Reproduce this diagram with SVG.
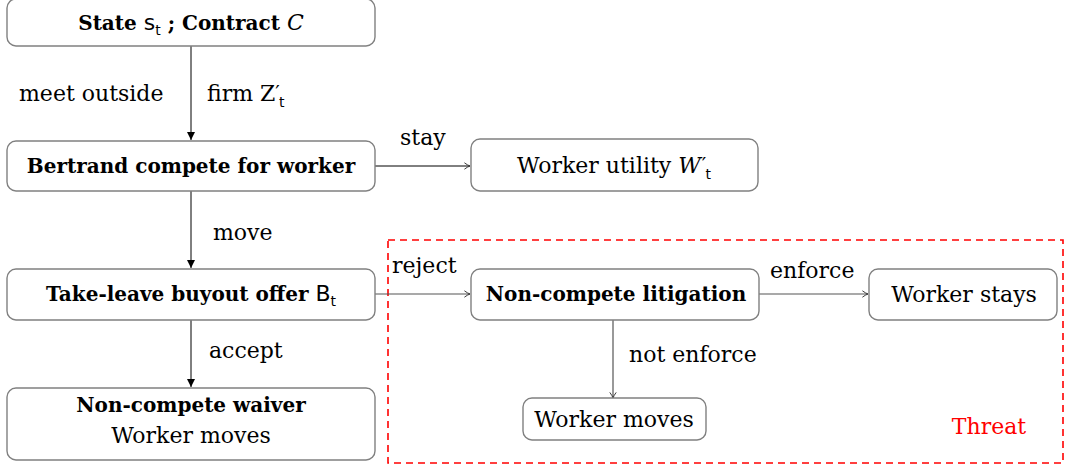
<svg xmlns="http://www.w3.org/2000/svg" width="1067" height="469" viewBox="0 0 1067 469">
<style>
.box{fill:#fff;stroke:#808080;stroke-width:1.4}
.t{font-family:"DejaVu Serif","Liberation Serif",serif;font-size:22px;fill:#000;text-anchor:middle}
.b{font-weight:bold;font-size:20px}
.lbl{font-family:"DejaVu Serif","Liberation Serif",serif;font-size:22px;fill:#000}
.m{font-family:"DejaVu Sans","Liberation Sans",sans-serif}
.pr{font-family:"DejaVu Sans","Liberation Sans",sans-serif;font-size:20px}
.ck{stroke:#000;stroke-width:1;fill:none}
.cg{stroke:#555;stroke-width:1.2;fill:none}
</style>
<defs>
<marker id="tri" viewBox="0 0 10 10" refX="10" refY="5" markerWidth="8" markerHeight="8" markerUnits="userSpaceOnUse" orient="auto">
<path d="M0,0 L10,5 L0,10 z" fill="#000"/>
</marker>
<marker id="open" viewBox="0 0 10 10" refX="9" refY="5" markerWidth="8" markerHeight="8" markerUnits="userSpaceOnUse" orient="auto">
<path d="M2,1 Q6,4 9,5 Q6,6 2,9" fill="none" stroke="#333" stroke-width="1.2"/>
</marker>
</defs>
<rect x="388" y="240" width="675" height="223" fill="none" stroke="#ff0000" stroke-width="1.6" stroke-dasharray="7,5"/>
<text x="989" y="434" class="lbl" text-anchor="middle" style="fill:#ff0000">Threat</text>
<g id="connectors">
<line class="ck" x1="191" y1="46" x2="191" y2="140" marker-end="url(#tri)"/>
<line class="ck" x1="191" y1="191" x2="191" y2="268" marker-end="url(#tri)"/>
<line class="ck" x1="191" y1="320" x2="191" y2="387" marker-end="url(#tri)"/>
<line class="ck" x1="375" y1="166" x2="470" y2="166" marker-end="url(#open)"/>
<line class="cg" x1="375" y1="294" x2="470" y2="294" marker-end="url(#open)"/>
<line class="cg" x1="759" y1="294" x2="868" y2="294" marker-end="url(#open)"/>
<line class="cg" x1="613" y1="320" x2="613" y2="398" marker-end="url(#open)"/>
<text class="lbl" x="19" y="101">meet outside</text>
<text class="lbl" x="207" y="101">firm Z<tspan class="pr" dy="-2">′</tspan><tspan class="m" font-size="14" dx="-1" dy="8">t</tspan></text>
<text class="lbl" x="400" y="145">stay</text>
<text class="lbl" x="213" y="240">move</text>
<text class="lbl" x="392" y="273">reject</text>
<text class="lbl" x="770" y="278">enforce</text>
<text class="lbl" x="209" y="358">accept</text>
<text class="lbl" x="629" y="362">not enforce</text>
</g>
<g id="n1">
<rect class="box" x="7" y="-1" width="368" height="47" rx="9"/>
<text class="t" x="191" y="30"><tspan class="b">State </tspan><tspan class="m">s</tspan><tspan class="m" font-size="14" dy="5">t</tspan><tspan class="b" dy="-5"> ; Contract </tspan><tspan font-style="italic">C</tspan></text>
</g>
<g id="n2">
<rect class="box" x="7" y="141" width="368" height="50" rx="9"/>
<text class="t b" x="191" y="173">Bertrand compete for worker</text>
</g>
<g id="n3">
<rect class="box" x="471" y="139" width="287" height="52" rx="9"/>
<text class="t" x="614" y="173">Worker utility <tspan font-style="italic">W</tspan><tspan class="pr" dx="1" dy="-2">′</tspan><tspan class="m" font-size="14" dx="-1" dy="8">t</tspan></text>
</g>
<g id="n4">
<rect class="box" x="7" y="269" width="368" height="51" rx="9"/>
<text class="t" x="191" y="301"><tspan class="b">Take-leave buyout offer </tspan><tspan class="m">B</tspan><tspan class="m" font-size="14" dy="5">t</tspan></text>
</g>
<g id="n5">
<rect class="box" x="7" y="388" width="368" height="72" rx="9"/>
<text class="t b" x="191" y="412">Non-compete waiver</text>
<text class="t" x="191" y="443">Worker moves</text>
</g>
<g id="n6">
<rect class="box" x="471" y="269" width="288" height="51" rx="9"/>
<text class="t b" x="616" y="301">Non-compete litigation</text>
</g>
<g id="n7">
<rect class="box" x="869" y="269" width="188" height="51" rx="9"/>
<text class="t" x="964" y="302">Worker stays</text>
</g>
<g id="n8">
<rect class="box" x="523" y="398" width="183" height="42" rx="9"/>
<text class="t" x="614" y="427">Worker moves</text>
</g>
</svg>
